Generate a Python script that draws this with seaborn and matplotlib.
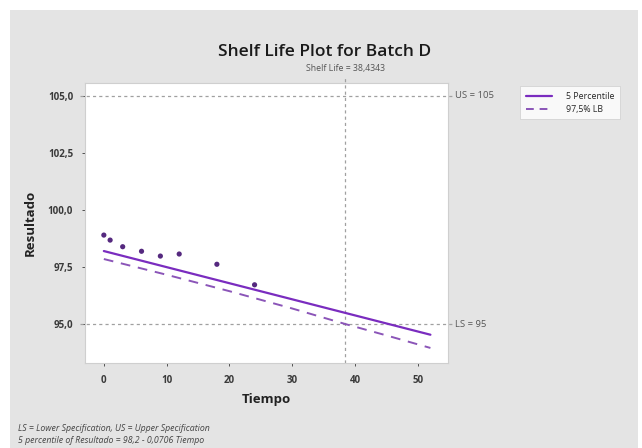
import numpy as np
import pandas as pd
import matplotlib
matplotlib.use("Agg")
import matplotlib.pyplot as plt
import seaborn as sns
from matplotlib.patches import Rectangle
from matplotlib.lines import Line2D
from matplotlib.ticker import FuncFormatter

# ---- data ----
tiempo = [0, 1, 3, 6, 9, 12, 18, 24]
resultado = [98.90, 98.68, 98.39, 98.19, 97.98, 98.07, 97.62, 96.72]

pct5_x = [0, 52]
pct5_y = [98.2, 94.53]

lb_x = [0, 10, 20, 30, 38.4343, 45, 52]
lb_y = [97.85, 97.16, 96.44, 95.68, 95.0, 94.50, 93.95]

upper_spec = 105
lower_spec = 95
shelf_life = 38.4343

xticks = [0, 10, 20, 30, 40, 50]
yticks = [95.0, 97.5, 100.0, 102.5, 105.0]

# ---- styling ----
sns.set_theme(style="white")
plt.rcParams['font.family'] = ['Open Sans', 'DejaVu Sans']

BG = '#e4e4e4'
PURPLE = '#7a2cbf'
PURPLE_D = '#8b55b8'
DOT = '#55297f'
REF = '#a0a0a0'
TXT = '#3a3a3a'

fig = plt.figure(figsize=(6.42, 4.48), dpi=100, facecolor='white')
fig.patches.append(Rectangle((10/642, 0), (638-10)/642, 1 - 10/448,
                             transform=fig.transFigure, facecolor=BG,
                             edgecolor='none', zorder=-10))

ax = fig.add_axes([85/642, 1 - 363/448, (448-85)/642, (363-83)/448])
ax.set_facecolor('white')

df_pts = pd.DataFrame({'Tiempo': tiempo, 'Resultado': resultado})
df_p5 = pd.DataFrame({'Tiempo': pct5_x, 'Resultado': pct5_y})
df_lb = pd.DataFrame({'Tiempo': lb_x, 'Resultado': lb_y})

sns.lineplot(data=df_p5, x='Tiempo', y='Resultado', ax=ax, color=PURPLE,
             lw=1.6, zorder=3)
sns.lineplot(data=df_lb, x='Tiempo', y='Resultado', ax=ax, color=PURPLE_D,
             lw=1.4, dashes=False, zorder=3)
ax.lines[-1].set_linestyle((0, (5, 4)))
sns.scatterplot(data=df_pts, x='Tiempo', y='Resultado', ax=ax, color=DOT,
                s=14, edgecolor='none', zorder=4)

ax.set_xlim(-3.0, 54.8)
ax.set_ylim(93.29, 105.57)

# reference lines extending slightly beyond the axes
for yv in (upper_spec, lower_spec):
    ax.plot([-0.014, 1.011], [yv, yv], transform=ax.get_yaxis_transform(),
            color=REF, lw=0.9, ls=(0, (2.5, 2.5)), clip_on=False, zorder=2)
ax.plot([shelf_life, shelf_life], [0, 1.018], transform=ax.get_xaxis_transform(),
        color=REF, lw=0.9, ls=(0, (2.5, 2.5)), clip_on=False, zorder=2)

ax.text(shelf_life, 1.035, f"Shelf Life = {shelf_life:.4f}".replace('.', ','),
        transform=ax.get_xaxis_transform(), ha='center', va='bottom',
        fontsize=6.3, color='#555555')
ax.text(1.02, upper_spec, f"US = {upper_spec}", transform=ax.get_yaxis_transform(),
        ha='left', va='center', fontsize=6.8, color='#555555')
ax.text(1.02, lower_spec, f"LS = {lower_spec}", transform=ax.get_yaxis_transform(),
        ha='left', va='center', fontsize=6.8, color='#555555')

ax.set_xticks(xticks)
ax.set_yticks(yticks)
ax.yaxis.set_major_formatter(FuncFormatter(lambda v, p: f"{v:.1f}".replace('.', ',')))
ax.tick_params(axis='both', labelsize=7, colors=TXT, length=2.5, width=0.6,
               direction='out', bottom=True, left=True, pad=6)
for lab in ax.get_xticklabels() + ax.get_yticklabels():
    lab.set_fontweight('bold')
for sp in ax.spines.values():
    sp.set_color('#cfcfcf')
    sp.set_linewidth(0.8)

ax.set_xlabel('Tiempo', fontsize=9.5, fontweight='bold', color='#222222', labelpad=5)
ax.set_ylabel('Resultado', fontsize=9.5, fontweight='bold', color='#222222', labelpad=8)

fig.text(325/642, 1 - 52/448, 'Shelf Life Plot for Batch D', ha='center',
         va='center', fontsize=12.5, fontweight='semibold', color='#1a1a1a')

fig.text(18/642, 1 - 428/448, 'LS = Lower Specification, US = Upper Specification',
         ha='left', va='center', fontsize=6.3, style='italic', color='#444444')
fig.text(18/642, 1 - 440/448, '5 percentile of Resultado = 98,2 - 0,0706 Tiempo',
         ha='left', va='center', fontsize=6.3, style='italic', color='#444444')

handles = [Line2D([], [], color=PURPLE, lw=1.6),
           Line2D([], [], color=PURPLE_D, lw=1.4, ls=(0, (4, 3)))]
leg = fig.legend(handles, ['5 Percentile', '97,5% LB'], loc='upper left',
                 bbox_to_anchor=(516/642, 1 - 82/448), fontsize=6.3,
                 frameon=True, fancybox=False, handlelength=3.0,
                 borderpad=0.6, labelspacing=0.5, handletextpad=1.6)
leg.get_frame().set_facecolor('white')
leg.get_frame().set_edgecolor('#cccccc')
leg.get_frame().set_linewidth(0.6)

fig.savefig('out.png', dpi=100, facecolor='white')
